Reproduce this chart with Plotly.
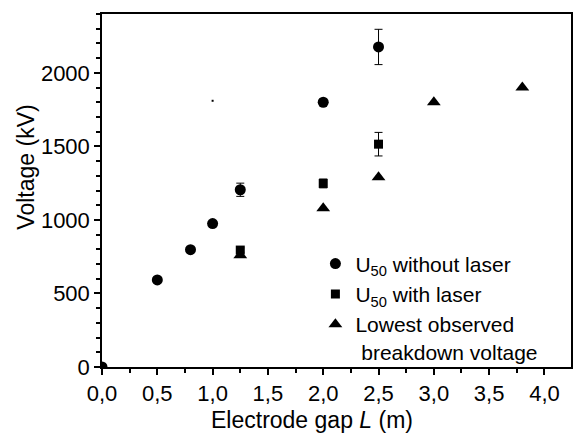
import plotly.graph_objects as go

# U50 without laser
gap_nolaser = [0.0, 0.5, 0.8, 1.0, 1.25, 2.0, 2.5]
u50_nolaser = [0, 592, 798, 975, 1205, 1800, 2176]
err_nolaser = [0, 0, 0, 0, 45, 0, 120]

# U50 with laser
gap_laser = [1.25, 2.0, 2.5]
u50_laser = [795, 1248, 1515]
err_laser = [15, 30, 80]

# Lowest observed breakdown voltage
gap_lowest = [1.25, 2.0, 2.5, 3.0, 3.8]
v_lowest = [760, 1080, 1290, 1800, 1900]

# stray dot
gap_dot = [1.0]
v_dot = [1810]

xtick_vals = [0, 0.5, 1.0, 1.5, 2.0, 2.5, 3.0, 3.5, 4.0]
xtick_text = ["0,0", "0,5", "1,0", "1,5", "2,0", "2,5", "3,0", "3,5", "4,0"]
ytick_vals = [0, 500, 1000, 1500, 2000]

FONT = "Liberation Sans, Arial, sans-serif"

fig = go.Figure()
fig.add_trace(go.Scatter(
    x=gap_nolaser, y=u50_nolaser, mode="markers", name="U<sub>50</sub> without laser",
    marker=dict(symbol="circle", size=11, color="black"),
    error_y=dict(type="data", array=err_nolaser, visible=True, color="black", thickness=1, width=4),
    cliponaxis=True,
))
fig.add_trace(go.Scatter(
    x=gap_laser, y=u50_laser, mode="markers", name="U<sub>50</sub> with laser",
    marker=dict(symbol="square", size=9, color="black"),
    error_y=dict(type="data", array=err_laser, visible=True, color="black", thickness=1, width=4),
))
fig.add_trace(go.Scatter(
    x=gap_lowest, y=v_lowest, mode="markers", name="Lowest observed<br> breakdown voltage",
    marker=dict(symbol="triangle-up", size=12, color="black"),
))
fig.add_trace(go.Scatter(
    x=gap_dot, y=v_dot, mode="markers", showlegend=False,
    marker=dict(symbol="square", size=2, color="black"),
))

fig.update_layout(
    width=573, height=434,
    margin=dict(l=102, r=2, t=14, b=67),
    paper_bgcolor="white", plot_bgcolor="white",
    font=dict(family=FONT, size=22, color="black"),
    showlegend=True,
    legend=dict(x=0.455, y=0.35, xanchor="left", yanchor="top", valign="top",
                bgcolor="rgba(0,0,0,0)", font=dict(size=21), tracegroupgap=0,
                itemsizing="trace"),
    xaxis=dict(
        range=[0, 4.24], showline=True, linecolor="black", linewidth=1.5, mirror=True,
        showgrid=False, zeroline=False, automargin=False,
        tickvals=xtick_vals, ticktext=xtick_text, ticks="outside", ticklen=6, tickwidth=1.5,
        minor=dict(dtick=0.25, tick0=0, ticks="outside", ticklen=4, tickwidth=1.5, tickcolor="black"),
        tickcolor="black", tickfont=dict(size=22),
    ),
    yaxis=dict(
        range=[0, 2400], showline=True, linecolor="black", linewidth=1.5, mirror=True,
        showgrid=False, zeroline=False, automargin=False,
        tickvals=ytick_vals, ticks="outside", ticklen=6, tickwidth=1.5, tickcolor="black",
        minor=dict(dtick=100, tick0=0, ticks="outside", ticklen=4, tickwidth=1.5, tickcolor="black"),
        tickfont=dict(size=22),
    ),
    annotations=[
        dict(text="Electrode gap <i>L</i> (m)", xref="paper", yref="paper",
             x=0.448, y=-0.15, xanchor="center", yanchor="middle", showarrow=False,
             font=dict(size=23)),
        dict(text="Voltage (kV)", xref="paper", yref="paper", textangle=-90,
             x=-0.164, y=0.565, xanchor="center", yanchor="middle", showarrow=False,
             font=dict(size=23)),
    ],
)

fig.write_html("out.html", config={"displayModeBar": False},
               post_script="document.body.style.margin='0';document.body.style.overflow='hidden';")
